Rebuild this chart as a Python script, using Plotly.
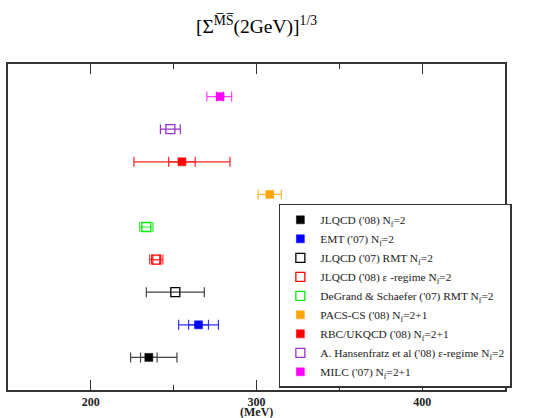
import plotly.graph_objects as go

labels = [
    "JLQCD ('08) N<sub>f</sub>=2",
    "EMT ('07) N<sub>f</sub>=2",
    "JLQCD ('07) RMT N<sub>f</sub>=2",
    "JLQCD ('08) ε -regime N<sub>f</sub>=2",
    "DeGrand &amp; Schaefer ('07) RMT N<sub>f</sub>=2",
    "PACS-CS ('08) N<sub>f</sub>=2+1",
    "RBC/UKQCD ('08) N<sub>f</sub>=2+1",
    "A. Hansenfratz et al ('08) ε-regime N<sub>f</sub>=2",
    "MILC ('07) N<sub>f</sub>=2+1",
]
rows = [1, 2, 3, 4, 5, 6, 7, 8, 9]
values = [235, 265, 251, 239.5, 233.5, 308, 255, 248, 278]
inner_plus = [5, 6, 0, 2, 0, 0, 8, 0, 2]
inner_minus = [5, 6, 0, 2, 0, 0, 8, 0, 2]
outer_plus = [17, 12, 17.5, 4, 4, 7, 29, 6, 7]
outer_minus = [11, 12, 17.5, 4, 4, 7, 29, 6, 8]
x_title = "(MeV)"

colors = ["#000000", "#0000ff", "#000000", "#ff0000", "#00ee00",
          "#ffa500", "#ff0000", "#9932cc", "#ff00ff"]
bar_colors = ["#444444", "#3333ff", "#444444", "#ff3333", "#33ee33",
              "#ffb733", "#ff2222", "#9932cc", "#ff44ff"]
symbols = ["square", "square", "square-open", "square-open", "square-open",
           "square", "square", "square-open", "square"]

fig = go.Figure()

for i in range(len(labels)):
    fig.add_trace(go.Scatter(
        x=[values[i]], y=[rows[i]], mode="markers",
        marker=dict(size=0.1, color=bar_colors[i]),
        error_x=dict(type="data", symmetric=False,
                     array=[outer_plus[i]], arrayminus=[outer_minus[i]],
                     color=bar_colors[i], thickness=1.2, width=5),
        showlegend=False, hoverinfo="skip"))
    if inner_plus[i] > 0:
        fig.add_trace(go.Scatter(
            x=[values[i]], y=[rows[i]], mode="markers",
            marker=dict(size=0.1, color=bar_colors[i]),
            error_x=dict(type="data", symmetric=False,
                         array=[inner_plus[i]], arrayminus=[inner_minus[i]],
                         color=bar_colors[i], thickness=1.2, width=5),
            showlegend=False, hoverinfo="skip"))

for i in range(len(labels)):
    filled = symbols[i] == "square"
    fig.add_trace(go.Scatter(
        x=[values[i]], y=[rows[i]], mode="markers", name=labels[i],
        marker=dict(symbol=symbols[i], size=8 if filled else 9, color=colors[i],
                    line=dict(color=colors[i], width=0.5 if filled else 1.3)),
        showlegend=True))

fig.update_layout(
    width=540, height=418,
    margin=dict(l=8, r=35, t=64, b=28, autoexpand=False),
    paper_bgcolor="white", plot_bgcolor="white",
    font=dict(family="Liberation Serif", color="black"),
    title=dict(text="[Σ<sup>M\u0305S\u0305</sup>(2GeV)]<sup>1/3</sup>",
               x=0.475, xanchor="center", y=0.938, yanchor="middle",
               font=dict(size=19.5, family="Liberation Serif")),
    showlegend=True,
    legend=dict(x=0.545, y=0.571, xanchor="left", yanchor="top",
                bordercolor="#333333", borderwidth=1.5, bgcolor="white",
                font=dict(size=11.4, family="Liberation Serif", color="#222222"),
                itemwidth=30),
    annotations=[dict(text=x_title, x=0.5, xref="paper", y=-0.069, yref="paper",
                      xanchor="center", yanchor="middle", showarrow=False,
                      font=dict(size=12, family="Liberation Serif", weight="bold",
                                color="#222222"))],
)

fig.update_xaxes(
    range=[150, 450], tickvals=[200, 300, 400], ticks="inside", ticklen=10,
    tickwidth=1.3, tickcolor="#333333",
    minor=dict(tickvals=[250, 350], ticks="inside", ticklen=5,
               tickwidth=1.3, tickcolor="#333333"),
    showline=True, linecolor="#333333", linewidth=1.5, mirror="allticks",
    showgrid=False, zeroline=False,
    tickfont=dict(size=12, family="Liberation Serif", weight="bold", color="#222222"),
)
fig.update_yaxes(
    range=[0, 10], showticklabels=False, ticks="", showgrid=False,
    zeroline=False, showline=True, linecolor="#333333", linewidth=1.5, mirror=True,
)

fig.write_html("out.html", config={"displayModeBar": False},
               post_script="document.body.style.margin='0px';")
